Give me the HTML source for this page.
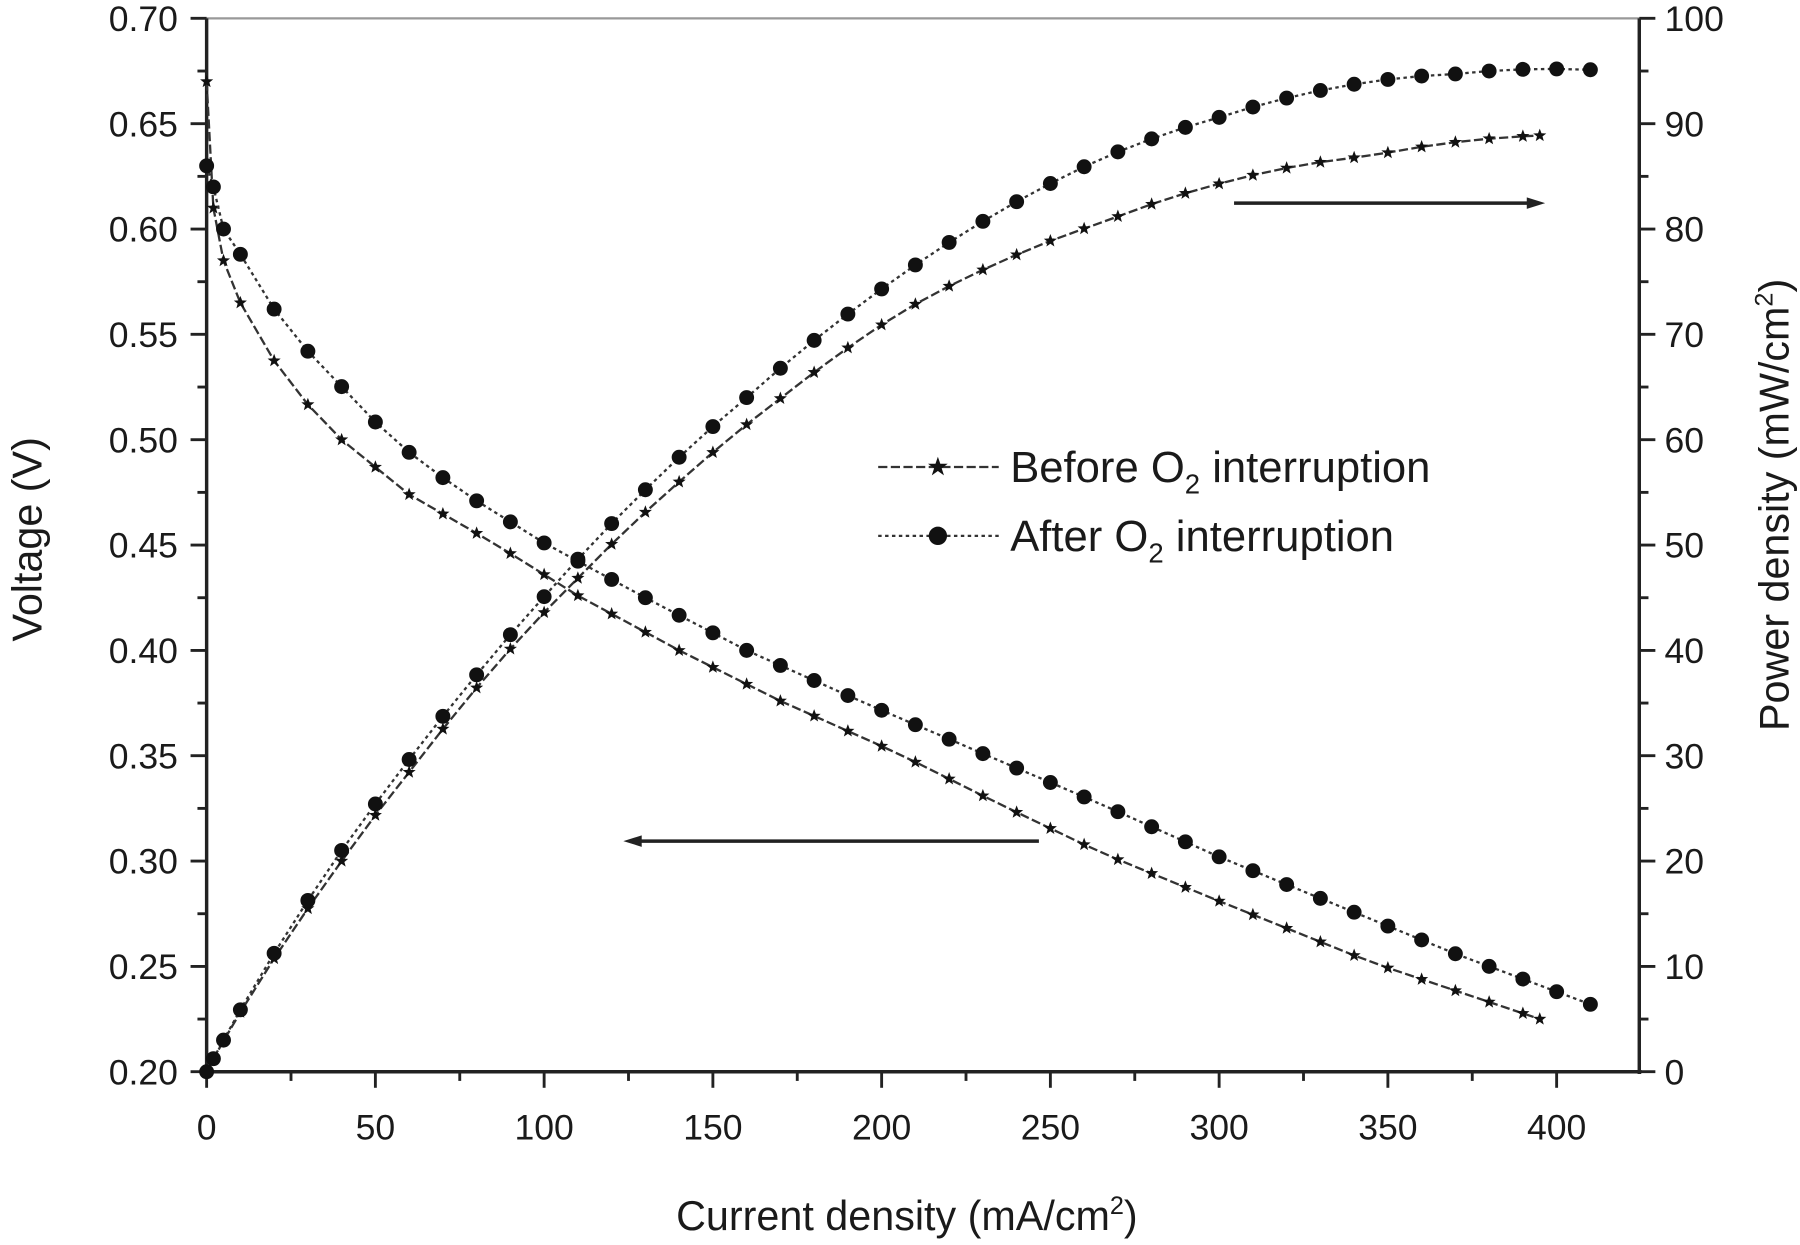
<!DOCTYPE html>
<html><head><meta charset="utf-8"><style>html,body{margin:0;padding:0;background:#fff}svg{display:block}</style></head>
<body>
<svg id="s" width="1800" height="1245" viewBox="0 0 1568 1085" preserveAspectRatio="none" xmlns="http://www.w3.org/2000/svg" font-family="Liberation Sans, Arial, sans-serif"></svg>
<script>
const s=document.getElementById('s');let h='';
const X=i=>180+i*2.94, YV=v=>934-(v-0.2)*1836, YP=p=>934-p*9.18;
h+='<line x1="180" y1="16" x2="1428" y2="16" stroke="#999" stroke-width="2"/>';
h+='<line x1="180" y1="16" x2="180" y2="936" stroke="#222" stroke-width="3"/>';
h+='<line x1="1428" y1="16" x2="1428" y2="936" stroke="#222" stroke-width="3"/>';
h+='<line x1="178" y1="934" x2="1430" y2="934" stroke="#222" stroke-width="3"/>';
for(let k=0;k<=20;k++){const y=934-k*45.9;const L=k%2==0?14:8;
 h+=`<line x1="${180-L}" y1="${y}" x2="180" y2="${y}" stroke="#222" stroke-width="2.5"/>`;
 h+=`<line x1="1428" y1="${y}" x2="${1428+L}" y2="${y}" stroke="#222" stroke-width="2.5"/>`;
 if(k%2==0){h+=`<text x="155" y="${y+11}" font-size="31" text-anchor="end" fill="#1a1a1a">${(0.2+k*0.025).toFixed(2)}</text>`;
 h+=`<text x="1450" y="${y+11}" font-size="31" fill="#1a1a1a">${k*5}</text>`;}}
for(let k=0;k<=16;k++){const x=X(k*25);const L=k%2==0?14:8;
 h+=`<line x1="${x}" y1="934" x2="${x}" y2="${934+L}" stroke="#222" stroke-width="2.5"/>`;
 if(k%2==0)h+=`<text x="${x}" y="993" font-size="31" text-anchor="middle" fill="#1a1a1a">${k*25}</text>`;}
h+='<text x="790" y="1072" font-size="36" text-anchor="middle" fill="#1a1a1a">Current density (mA/cm<tspan dy="-14" font-size="22">2</tspan><tspan dy="14">)</tspan></text>';
h+='<text transform="translate(36,470) rotate(-90)" font-size="36" text-anchor="middle" fill="#1a1a1a">Voltage (V)</text>';
h+='<text transform="translate(1558,440) rotate(-90)" font-size="36" text-anchor="middle" fill="#1a1a1a">Power density (mW/cm<tspan dy="-14" font-size="22">2</tspan><tspan dy="14">)</tspan></text>';
function interp(pts,i){for(let k=0;k<pts.length-1;k++){const[a,va]=pts[k],[b,vb]=pts[k+1];if(i>=a&&i<=b)return va+(vb-va)*(i-a)/(b-a);}return pts[pts.length-1][1];}
const B=[[0,0.67],[2,0.61],[5,0.585],[10,0.565],[15,0.55],[25,0.525],[40,0.50],[60,0.474],[85,0.451],[110,0.426],[140,0.40],[170,0.376],[205,0.351],[235,0.327],[265,0.304],[300,0.281],[345,0.252],[395,0.225]];
const A=[[0,0.63],[2,0.62],[5,0.60],[10,0.588],[20,0.562],[30,0.542],[55,0.50],[75,0.476],[100,0.451],[130,0.425],[160,0.40],[195,0.375],[230,0.351],[265,0.327],[300,0.302],[335,0.279],[370,0.256],[410,0.232]];
function series(pts,ids,circ){let pv='',pp='',m='';
 ids.forEach((i,n)=>{const v=interp(pts,i),x=X(i),y1=YV(v),y2=YP(v*i);pv+=(n?'L':'M')+x+','+y1;pp+=(n?'L':'M')+x+','+y2;
 [y1,y2].forEach(y=>{if(circ)m+=`<circle cx="${x}" cy="${y}" r="6.5" fill="#111"/>`;else{let q='';for(let j=0;j<10;j++){const r=j%2?2.5:6,a=-Math.PI/2+j*Math.PI/5;q+=(x+r*Math.cos(a)).toFixed(1)+','+(y+r*Math.sin(a)).toFixed(1)+' ';}m+=`<polygon points="${q}" fill="#111"/>`;}});});
 return `<path d="${pv}" fill="none" stroke="#333" stroke-width="2" stroke-dasharray="${circ?'3,3':'8,3'}"/><path d="${pp}" fill="none" stroke="#333" stroke-width="2" stroke-dasharray="${circ?'3,3':'8,3'}"/>`+m;}
let ib=[0,2,5];for(let i=10;i<=390;i+=10)ib.push(i);ib.push(395);
let ia=[0,2,5];for(let i=10;i<=410;i+=10)ia.push(i);
h+=series(B,ib,false)+series(A,ia,true);
h+='<line x1="1075" y1="177" x2="1335" y2="177" stroke="#222" stroke-width="3"/><polygon points="1346,177 1330,172 1330,182" fill="#222"/>';
h+='<line x1="555" y1="733" x2="905" y2="733" stroke="#222" stroke-width="3"/><polygon points="543,733 559,728 559,738" fill="#222"/>';
h+='<line x1="765" y1="407" x2="870" y2="407" stroke="#333" stroke-width="2" stroke-dasharray="8,3"/>';
let q='';for(let j=0;j<10;j++){const r=j%2?3.5:9,a=-Math.PI/2+j*Math.PI/5;q+=(817+r*Math.cos(a)).toFixed(1)+','+(407+r*Math.sin(a)).toFixed(1)+' ';}h+=`<polygon points="${q}" fill="#111"/>`;
h+='<line x1="765" y1="467" x2="870" y2="467" stroke="#333" stroke-width="2" stroke-dasharray="3,3"/><circle cx="817" cy="467" r="8" fill="#111"/>';
h+='<text x="880" y="420" font-size="38" fill="#1a1a1a">Before O<tspan dy="10" font-size="24">2</tspan><tspan dy="-10"> interruption</tspan></text>';
h+='<text x="880" y="480" font-size="38" fill="#1a1a1a">After  O<tspan dy="10" font-size="24">2</tspan><tspan dy="-10"> interruption</tspan></text>';
s.innerHTML=h;
</script>
</body></html>
